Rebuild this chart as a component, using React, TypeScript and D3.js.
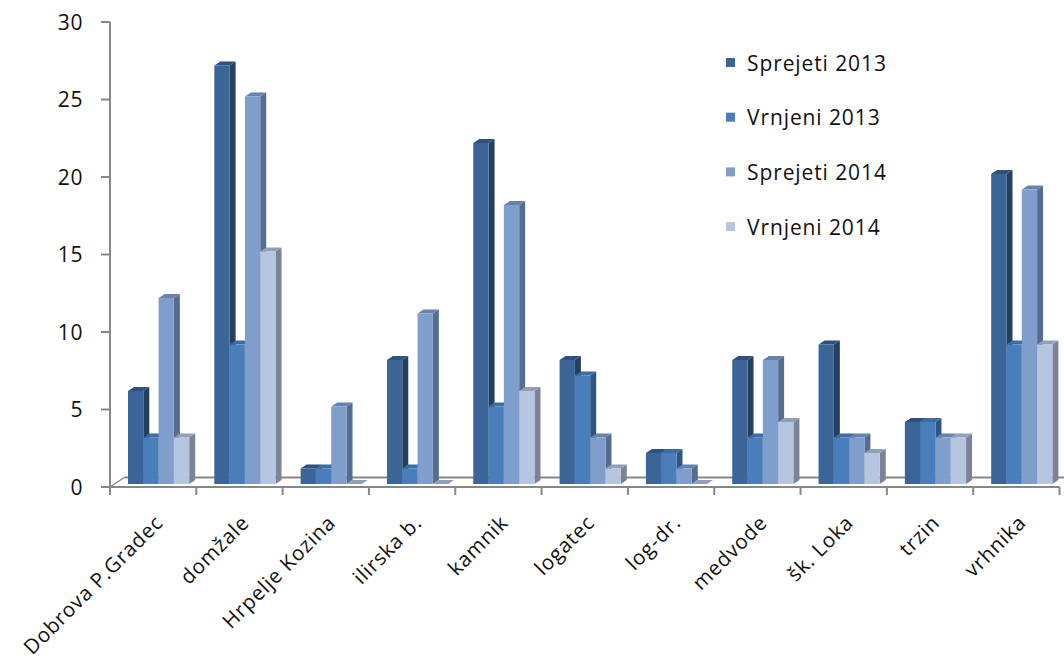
import React from "react";
import * as d3 from "d3";

const categories = [
  "Dobrova P.Gradec", "domžale", "Hrpelje Kozina", "ilirska b.", "kamnik",
  "logatec", "log-dr.", "medvode", "šk. Loka", "trzin", "vrhnika",
];
const seriesNames = ["Sprejeti 2013", "Vrnjeni 2013", "Sprejeti 2014", "Vrnjeni 2014"];
const sprejeti2013 = [6, 27, 1, 8, 22, 8, 2, 8, 9, 4, 20];
const vrnjeni2013 = [3, 9, 1, 1, 5, 7, 2, 3, 3, 4, 9];
const sprejeti2014 = [12, 25, 5, 11, 18, 3, 1, 8, 3, 3, 19];
const vrnjeni2014 = [3, 15, 0, 0, 6, 1, 0, 4, 2, 3, 9];
const yTicks = [0, 5, 10, 15, 20, 25, 30];

const seriesValues = [sprejeti2013, vrnjeni2013, sprejeti2014, vrnjeni2014];
const frontColors = ["#3B6597", "#4A7EBB", "#7F9ECB", "#B7C6E0"];
const sideColors = ["#253F60", "#2E5582", "#566D90", "#7B8497"];
const topColors = ["#2F517D", "#3D6BA2", "#6782AE", "#939FB8"];

const FONT = "'Open Sans', 'DejaVu Sans', sans-serif";
const AXIS = "#878787";

export default function App() {
  const x0 = 110;
  const x1 = 1059.5;
  const yBottom = 487;
  const yTop = 22;
  const x = d3.scaleBand<string>().domain(categories).range([x0, x1]).paddingInner(0).paddingOuter(0);
  const y = d3.scaleLinear().domain([0, 30]).range([yBottom, yTop]);
  const bw = 15.3;
  const barOffset = 18;
  const dx = 6;
  const dy = -4;
  const shift = 3; // bars sit mid-depth

  const bars: React.ReactNode[] = [];
  categories.forEach((c, ci) => {
    const start = (x(c) as number) + barOffset;
    seriesValues.forEach((vals, si) => {
      const v = vals[ci];
      const bx0 = start + si * bw;
      const bx1 = bx0 + bw;
      const base = y(0) - shift;
      const top = y(v) - shift;
      bars.push(
        <g key={`${ci}-${si}`}>
          <polygon
            points={`${bx1},${top} ${bx1 + dx},${top + dy} ${bx1 + dx},${base + dy} ${bx1},${base}`}
            fill={sideColors[si]}
          />
          <polygon
            points={`${bx0},${top} ${bx0 + dx},${top + dy} ${bx1 + dx},${top + dy} ${bx1},${top}`}
            fill={topColors[si]}
          />
          {v > 0 && <rect x={bx0} y={top} width={bw} height={base - top} fill={frontColors[si]} />}
        </g>
      );
    });
  });

  return (
    <svg
      width={1064}
      height={659}
      style={{ position: "absolute", left: 0, top: 0, background: "#fff" }}
    >
      {/* floor */}
      <line x1={x0} y1={yBottom} x2={x0 + 15} y2={yBottom - 10} stroke={AXIS} strokeWidth={1.5} />
      <line x1={x0 + 15} y1={yBottom - 9.5} x2={1064} y2={yBottom - 9.5} stroke={AXIS} strokeWidth={2} />

      {bars}

      {/* y axis */}
      <line x1={x0} y1={yTop} x2={x0} y2={yBottom} stroke={AXIS} strokeWidth={2} />
      {yTicks.map((t) => (
        <g key={t}>
          <line x1={x0 - 9} x2={x0} y1={y(t)} y2={y(t)} stroke={AXIS} strokeWidth={2} />
          <text
            x={83}
            y={y(t) + 7.5}
            textAnchor="end"
            fontFamily={FONT}
            fontSize={21}
            letterSpacing={0.6}
            fill="#111"
          >
            {t}
          </text>
        </g>
      ))}

      {/* x axis */}
      <line x1={x0} y1={yBottom} x2={x1} y2={yBottom} stroke={AXIS} strokeWidth={2} />
      {categories.map((c) => (
        <line key={`t-${c}`} x1={x(c) as number} x2={x(c) as number} y1={yBottom} y2={yBottom + 8} stroke={AXIS} strokeWidth={2} />
      ))}
      <line x1={x1} x2={x1} y1={yBottom} y2={yBottom + 8} stroke={AXIS} strokeWidth={2} />
      {categories.map((c) => {
        const cx = (x(c) as number) + x.bandwidth() / 2;
        return (
          <text
            key={`l-${c}`}
            transform={`translate(${cx + 11},${524}) rotate(-45)`}
            textAnchor="end"
            fontFamily={FONT}
            fontSize={20.5}
            letterSpacing={0.8}
            fill="#111"
          >
            {c}
          </text>
        );
      })}

      {/* legend */}
      {seriesNames.map((s, i) => {
        const cy = 62.5 + i * 54.7;
        return (
          <g key={s}>
            <rect x={726} y={cy - 4.5} width={9} height={9} fill={frontColors[i]} />
            <text
              x={747}
              y={cy + 8}
              fontFamily={FONT}
              fontSize={21}
              letterSpacing={0.9}
              fill="#111"
            >
              {s}
            </text>
          </g>
        );
      })}
    </svg>
  );
}
